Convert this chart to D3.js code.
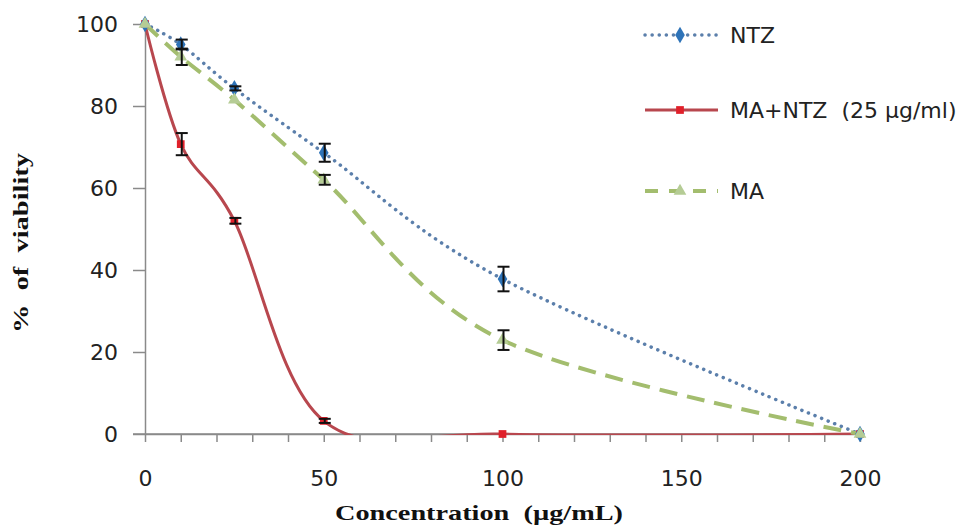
<!DOCTYPE html>
<html><head><meta charset="utf-8">
<script src="https://cdn.jsdelivr.net/npm/d3@7"></script>
<style>body{margin:0;background:#fff}svg{display:block}text{white-space:pre}</style>
</head><body>
<svg id="c" width="972" height="528"></svg>
<script>
const concentrations = [0, 10, 25, 50, 100, 200];
const ntzValues = [100, 95, 84.3, 68.6, 37.8, 0];
const ntzErrors = [0, 1.2, 0.5, 2.2, 3, 0];
const comboValues = [100, 70.7, 52, 3.2, 0, 0];
const comboErrors = [0, 2.7, 0.7, 0.5, 0, 0];
const maValues = [100, 92, 81.5, 62, 22.9, 0];
const maErrors = [0, 2, 0, 1.2, 2.4, 0];
const yTicks = [0, 20, 40, 60, 80, 100];
const xTicks = [0, 50, 100, 150, 200];
const xMinorTicks = d3.range(0, 201, 10);
const seriesNames = ["NTZ", "MA+NTZ  (25 µg/ml)", "MA"];
const xTitle = "Concentration  (µg/mL)";
const yTitle = "%  of  viability";

const svg = d3.select("#c");
const x = d3.scaleLinear().domain([0, 200]).range([145, 860]);
const y = d3.scaleLinear().domain([0, 100]).range([434, 24]);
const axisColor = "#8a8a8a";
const tickFont = "'DejaVu Sans', sans-serif";

// clip
svg.append("defs").append("clipPath").attr("id", "plot")
  .append("rect").attr("x", x(0) - 10).attr("y", y(100) - 10)
  .attr("width", x(200) - x(0) + 20).attr("height", y(0) - y(100) + 11);

// axes
const gx = svg.append("g").attr("transform", `translate(0,${y(0)})`)
  .call(d3.axisBottom(x).tickValues(xMinorTicks).tickSize(8).tickSizeOuter(0).tickFormat(""));
gx.selectAll("path,line").attr("stroke", axisColor).attr("stroke-width", 1.5);
const gx2 = svg.append("g").attr("transform", `translate(0,${y(0)})`)
  .call(d3.axisBottom(x).tickValues(xTicks).tickSize(0).tickPadding(36).tickFormat(d3.format("d")));
gx2.select(".domain").remove();
gx2.selectAll("text").attr("font-family", tickFont).attr("font-size", 22).attr("fill", "#222");

const gy = svg.append("g").attr("transform", `translate(${x(0)},0)`)
  .call(d3.axisLeft(y).tickValues(yTicks).tickSize(12).tickSizeOuter(0).tickPadding(15).tickFormat(d3.format("d")));
gy.selectAll("path,line").attr("stroke", axisColor).attr("stroke-width", 1.5);
gy.selectAll("text").attr("font-family", tickFont).attr("font-size", 22).attr("fill", "#222");
svg.append("line").attr("x1", x(0) - 12).attr("x2", x(200)).attr("y1", y(0)).attr("y2", y(0))
  .attr("stroke", axisColor).attr("stroke-width", 1.5);

// titles
svg.append("text").attr("x", 479).attr("y", 520).attr("text-anchor", "middle")
  .attr("font-family", "'Liberation Serif', serif").attr("font-weight", "bold").attr("font-size", 22)
  .attr("textLength", 288).attr("lengthAdjust", "spacingAndGlyphs").attr("fill", "#111").text(xTitle);
svg.append("text").attr("transform", "translate(28,243) rotate(-90)").attr("text-anchor", "middle")
  .attr("font-family", "'Liberation Serif', serif").attr("font-weight", "bold").attr("font-size", 22)
  .attr("textLength", 180).attr("lengthAdjust", "spacingAndGlyphs").attr("fill", "#111").text(yTitle);

const series = [
  {name: seriesNames[1], vals: comboValues, errs: comboErrors, line: "#b8474e", dash: null, width: 3, marker: "square", fill: "#e0202a"},
  {name: seriesNames[0], vals: ntzValues, errs: ntzErrors, line: "#5b7fab", dash: "0.1,7", width: 3.5, cap: "round", marker: "diamond", fill: "#2e73b8"},
  {name: seriesNames[2], vals: maValues, errs: maErrors, line: "#a3bd6e", dash: "18,10", width: 4, marker: "triangle", fill: "#b5cc95"}
];

const line = d3.line().x(d => x(d[0])).y(d => y(d[1])).curve(d3.curveCardinal.tension(0));
const plot = svg.append("g").attr("clip-path", "url(#plot)");
series.forEach(s => {
  const pts = concentrations.map((c, i) => [c, s.vals[i]]);
  plot.append("path").attr("d", line(pts)).attr("fill", "none")
    .attr("stroke", s.line).attr("stroke-width", s.width)
    .attr("stroke-dasharray", s.dash).attr("stroke-linecap", s.cap || "butt");
});

const symbolType = {square: d3.symbolSquare, diamond: d3.symbolDiamond, triangle: d3.symbolTriangle};
const symbolSize = {square: 60, diamond: 80, triangle: 70};
function drawMarker(g, s, cx, cy) {
  g.append("path").attr("d", d3.symbol().type(symbolType[s.marker]).size(symbolSize[s.marker])())
    .attr("transform", `translate(${cx},${cy})`).attr("fill", s.fill);
}
series.forEach(s => {
  concentrations.forEach((c, i) => drawMarker(svg, s, x(c), y(s.vals[i])));
});
series.forEach(s => {
  concentrations.forEach((c, i) => {
    const e = s.errs[i]; if (!e) return;
    const cx = x(c) + 1, y1 = y(s.vals[i] + e), y2 = y(s.vals[i] - e);
    const g = svg.append("g").attr("stroke", "#111").attr("stroke-width", 2);
    g.append("line").attr("x1", cx).attr("x2", cx).attr("y1", y1).attr("y2", y2);
    g.append("line").attr("x1", cx - 6).attr("x2", cx + 6).attr("y1", y1).attr("y2", y1);
    g.append("line").attr("x1", cx - 6).attr("x2", cx + 6).attr("y1", y2).attr("y2", y2);
  });
});

// legend
const legendRows = [
  {s: series[1], y: 35, dash: "0.1,7"},
  {s: series[0], y: 110, dash: null},
  {s: series[2], y: 191, dash: "13,11"}
];
legendRows.forEach(r => {
  const g = svg.append("g");
  g.append("line").attr("x1", 645).attr("x2", 718).attr("y1", r.y).attr("y2", r.y)
    .attr("stroke", r.s.line).attr("stroke-width", r.s.width)
    .attr("stroke-dasharray", r.dash).attr("stroke-linecap", r.s.cap || "butt");
  drawMarker(g, r.s, 680, r.y);
  g.append("text").attr("x", 730).attr("y", r.y).attr("dy", "0.36em")
    .attr("font-family", tickFont).attr("font-size", 22).attr("fill", "#222").text(r.s.name);
});
</script>
</body></html>
